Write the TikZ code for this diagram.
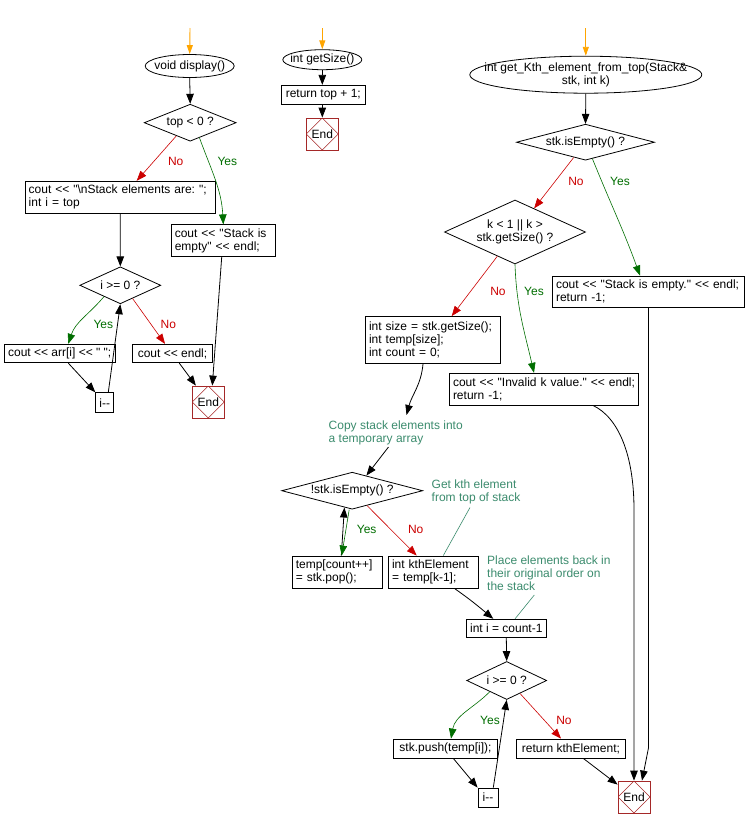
\documentclass[tikz,border=0pt]{standalone}
\usepackage{fontspec}
\newfontfamily\lsans{Liberation Sans}
\usetikzlibrary{shapes.geometric,arrows.meta,calc}
\frenchspacing
\definecolor{nored}{RGB}{204,0,0}
\definecolor{yesgreen}{RGB}{0,110,0}
\definecolor{cmt}{RGB}{60,140,110}
\definecolor{endred}{RGB}{165,40,40}
\definecolor{startorange}{RGB}{255,165,0}
\tikzset{
  every node/.style={font=\lsans\fontsize{12}{13}\selectfont},
  mbox/.style n args={3}{draw, line width=0.8pt, minimum width=#1pt, minimum height=#2pt, text width=#3pt, align=left, inner xsep=3pt, inner ysep=0pt},
  sbox/.style 2 args={draw, line width=0.8pt, minimum width=#1pt, minimum height=#2pt, align=center, inner sep=0pt},
  dec/.style 2 args={diamond, draw, line width=0.8pt, minimum width=#1pt, minimum height=#2pt, inner sep=0pt},
  term/.style 2 args={ellipse, draw, line width=0.8pt, minimum width=#1pt, minimum height=#2pt, inner sep=0pt},
  endbox/.style={draw=endred, line width=0.8pt, minimum size=32pt, inner sep=0pt,
    path picture={\draw[endred, line width=0.6pt] (path picture bounding box.north) -- (path picture bounding box.east) -- (path picture bounding box.south) -- (path picture bounding box.west) -- cycle;},
    label={center:End}},
  comment/.style={text=cmt, align=left, inner sep=0pt},
  arr/.style={draw=black, line width=0.8pt, -{Triangle[length=10pt,width=7.5pt]}},
  yesarr/.style={draw=yesgreen, line width=0.6pt, -{Triangle[length=10pt,width=7.5pt]}},
  noarr/.style={draw=nored, line width=0.6pt, -{Triangle[length=10pt,width=7.5pt]}},
  startarr/.style={draw=startorange, line width=0.9pt, -{Triangle[length=9pt,width=6pt]}},
  cline/.style={draw=cmt, line width=0.6pt},
  yeslbl/.style={text=yesgreen, inner sep=0pt},
  nolbl/.style={text=nored, inner sep=0pt},
  lab/.style={align=center, inner sep=0pt}
}
\begin{document}
\begin{tikzpicture}[x=1pt,y=1pt]
\fill[white] (0,0) rectangle (746,-828);
\useasboundingbox (0,0) rectangle (746,-828);

% ---------- display() ----------
\coordinate (s1) at (190,-28);
\node[term={89}{23}, label={[lab]center:void display()}] (disp) at (189.7,-66) {};
\node[dec={92}{37}, label={[lab]center:top < 0 ?}] (top0) at (190.2,-122.7) {};
\node[mbox={190}{32}{183}] (box1) at (120.2,-197.2) {cout << "\textbackslash nStack elements are: ";\\int i = top};
\node[mbox={104}{32}{97}] (empty1) at (223.3,-240.8) {cout << "Stack is\\empty" << endl;};
\node[dec={81}{37}, label={[lab]center:i >= 0 ?}] (i0) at (120.3,-285.3) {};
\node[sbox={111}{18.5}] (arr1) at (59.7,-353.5) {cout << arr[i] << " ";};
\node[sbox={80}{18.5}] (endl1) at (172.5,-353.5) {cout << endl;};
\node[sbox={18}{20}] (dec1) at (104.7,-402.7) {i-{}-};
\node[endbox] (end1) at (208.3,-402) {};
\node[nolbl] (n1) at (175.7,-161.7) {No};
\node[yeslbl] (y1) at (227.3,-161.7) {Yes};
\node[yeslbl] (y2) at (103.3,-324.3) {Yes};
\node[nolbl] (n2) at (168.3,-324.3) {No};

\draw[startarr] (s1) -- (disp.north);
\draw[arr] (disp.south) -- (top0.north);
\draw[noarr] ($(top0.south)!0.3!(top0.west)$) -- ([xshift=16.5pt]box1.north);
\draw[yesarr] ($(top0.south)!0.2!(top0.east)$) to[out=-70,in=93] (empty1.north);
\draw[arr] (box1.south) -- (i0.north);
\draw[yesarr] ($(i0.south)!0.4!(i0.west)$) to[out=-130,in=72] ([xshift=8.6pt]arr1.north);
\draw[noarr] ($(i0.south)!0.3!(i0.east)$) -- ([xshift=-7.5pt]endl1.north);
\draw[arr] ([xshift=8.6pt]arr1.south) -- (dec1.north west);
\draw[arr] ([xshift=3.6pt]dec1.north) -- (i0.south);
\draw[arr] ([xshift=6.8pt]endl1.south) -- ([xshift=4pt]end1.north west);
\draw[arr] ([xshift=-1.6pt]empty1.south) -- ([xshift=4pt]end1.north);

% ---------- getSize() ----------
\coordinate (s2) at (322.3,-28);
\node[term={79}{20}, label={[lab]center:int getSize()}] (gs) at (322.3,-59.7) {};
\node[sbox={84}{19}] (ret) at (323.3,-94.8) {return top + 1;};
\node[endbox] (end2) at (322.3,-134) {};
\draw[startarr] (s2) -- (gs.north);
\draw[arr] (gs.south) -- (gs.south |- ret.north);
\draw[arr] (ret.south -| end2.north) -- (end2.north);

% ---------- get_Kth_element_from_top ----------
\coordinate (s3) at (585.8,-28);
\node[term={232}{37}, label={[lab]center:int get\_Kth\_element\_from\_top(Stack\&\\stk, int k)}] (kth) at (585.8,-74.7) {};
\node[dec={138}{36}, label={[lab]center:stk.isEmpty() ?}] (se) at (585.5,-142.2) {};
\node[dec={141}{64}, label={[lab]center:{k < 1 || k >\\stk.getSize() ?}}] (kk) at (515,-232) {};
\node[mbox={192}{31.5}{185}] (sie) at (648.5,-291.7) {cout << "Stack is empty." << endl;\\return -1;};
\node[mbox={135}{47}{128}] (isz) at (433,-340) {int size = stk.getSize();\\int temp[size];\\int count = 0;};
\node[mbox={189}{32}{182}] (inv) at (544,-389.2) {cout << "Invalid k value." << endl;\\return -1;};
\node[comment, anchor=west] (c1) at (328.5,-433) {Copy stack elements into\\a temporary array};
\node[dec={141}{37}, label={[lab]center:!stk.isEmpty() ?}] (ne) at (352.2,-490.7) {};
\node[mbox={90}{32.5}{83}] (tc) at (337.3,-572.2) {temp[count++]\\= stk.pop();};
\node[mbox={90.5}{32.5}{83}] (ke) at (433.5,-572.2) {int kthElement\\= temp[k-1];};
\node[comment, anchor=west] (c2) at (431.5,-491.5) {Get kth element\\from top of stack};
\node[comment, anchor=west] (c3) at (487,-573) {Place elements back in\\their original order on\\the stack};
\node[sbox={80}{18.5}] (ic) at (506.3,-628.5) {int i = count-1};
\node[dec={80}{38}, label={[lab]center:i >= 0 ?}] (i2) at (506.7,-680.5) {};
\node[sbox={104.5}{19}] (push) at (445.5,-748.5) {stk.push(temp[i]);};
\node[sbox={109.5}{19}] (rk) at (571,-748.5) {return kthElement;};
\node[sbox={20}{19}] (dec2) at (488,-797.5) {i-{}-};
\node[endbox] (end3) at (634,-797) {};

\node[nolbl] (n3) at (576,-181) {No};
\node[yeslbl] (y3) at (620,-181) {Yes};
\node[nolbl] (n4) at (498,-291) {No};
\node[yeslbl] (y4) at (534,-291) {Yes};
\node[yeslbl] (y5) at (366.7,-529.3) {Yes};
\node[nolbl] (n5) at (415.7,-529.3) {No};
\node[yeslbl] (y6) at (490,-720) {Yes};
\node[nolbl] (n6) at (564,-720) {No};

\draw[startarr] (s3) -- (kth.north);
\draw[arr] (kth.south) -- (se.north);
\draw[noarr] ($(se.south)!0.17!(se.west)$) -- ($(kk.north)!0.27!(kk.east)$);
\draw[yesarr] ($(se.south)!0.1!(se.east)$) to[out=-68,in=110] ([xshift=-8.5pt]sie.north);
\draw[noarr] ($(kk.south)!0.25!(kk.west)$) -- ([xshift=18.7pt]isz.north);
\draw[yesarr] (kk.south) to[out=-88,in=103] ([xshift=-10pt]inv.north);
\draw[arr] (sie.south) -- ([yshift=-440pt]sie.south) -- ([xshift=8pt]end3.north);
\draw[arr] ([xshift=49.3pt]inv.south) .. controls +(25,-12) and +(0,55) .. ([yshift=271pt]end3.north) -- (end3.north);
\draw[arr] ([xshift=-10pt]isz.south) to[out=-95,in=75] ([shift={(78pt,18pt)}]c1.west);
\draw[arr] ([shift={(60pt,-14pt)}]c1.west) -- ($(ne.north)!0.2!(ne.east)$);
\draw[arr] ([xshift=4pt]tc.north) -- ($(ne.south)!0.11!(ne.west)$);
\draw[yesarr] ([xshift=-3pt]ne.south) -- ([xshift=4.4pt]tc.north);
\draw[noarr] ($(ne.south)!0.21!(ne.east)$) -- ([xshift=-16.8pt]ke.north);
\draw[cline] ([shift={(38.5pt,-16pt)}]c2.west) -- ([xshift=9.8pt]ke.north);
\draw[arr] ([xshift=21.5pt]ke.south) to[out=-35,in=140] ([xshift=-13pt]ic.north);
\draw[cline] ([shift={(47.3pt,-22pt)}]c3.west) -- ([xshift=8.7pt]ic.north);
\draw[arr] (ic.south) -- (i2.north);
\draw[yesarr] ($(i2.south)!0.42!(i2.west)$) to[out=-135,in=80] ([xshift=5.5pt]push.north);
\draw[noarr] ($(i2.south)!0.33!(i2.east)$) -- ([xshift=-10pt]rk.north);
\draw[arr] ([xshift=7.8pt]push.south) -- (dec2.north west);
\draw[arr] ([xshift=5.3pt]dec2.north) -- (i2.south);
\draw[arr] ([xshift=12.3pt]rk.south) -- ([yshift=-4pt]end3.north west);
\end{tikzpicture}
\end{document}
